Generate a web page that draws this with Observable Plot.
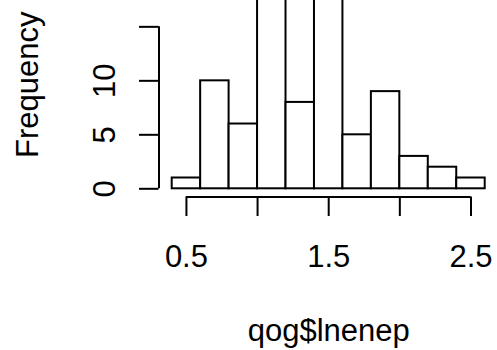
<!DOCTYPE html>
<html><head><meta charset="utf-8">
<script src="https://cdn.jsdelivr.net/npm/d3@7"></script>
<script src="https://cdn.jsdelivr.net/npm/@observablehq/plot@0.6"></script>
<style>body{margin:0;background:#fff;}</style>
</head><body><div id="chart"></div>
<script>
const binEdges = [0.4, 0.6, 0.8, 1.0, 1.2, 1.4, 1.6, 1.8, 2.0, 2.2, 2.4, 2.6];
const counts = [1, 10, 6, 20, 8, 20, 5, 9, 3, 2, 1];
const xTicks = [0.5, 1, 1.5, 2, 2.5];
const xTickLabels = [0.5, 1.5, 2.5];
const yTicks = [0, 5, 10, 15];
const yTickLabels = [0, 5, 10];
const xTitle = "qog$lnenep";
const yTitle = "Frequency";

const bins = counts.map((c, i) => ({x1: binEdges[i], x2: binEdges[i + 1], count: c}));
const font = "'Liberation Sans', Arial, Helvetica, sans-serif";
const fs = 31;
const sw = 2;

const chart = Plot.plot({
  width: 497, height: 350,
  marginLeft: 171.7, marginRight: 12.3, marginTop: 0, marginBottom: 161.7,
  style: {fontFamily: font, overflow: "hidden", background: "white", color: "black"},
  x: {domain: [binEdges[0], binEdges[binEdges.length - 1]]},
  y: {domain: [0, 17.44]},
  marks: [
    Plot.rectY(bins, {x1: "x1", x2: "x2", y: "count", fill: "white", stroke: "black", strokeWidth: sw}),
    Plot.ruleY([0], {x1: xTicks[0], x2: xTicks[xTicks.length - 1], dy: 8.2, stroke: "black", strokeWidth: sw}),
    Plot.axisX({ticks: xTicks, tickSize: 19.5, dy: 8.2, tickFormat: () => "", label: null, strokeWidth: sw, stroke: "black"}),
    Plot.ruleX([binEdges[0]], {y1: yTicks[0], y2: yTicks[yTicks.length - 1], dx: -13.2, stroke: "black", strokeWidth: sw}),
    Plot.axisY({ticks: yTicks, tickSize: 19.5, dx: -13.2, tickFormat: () => "", label: null, strokeWidth: sw, stroke: "black"}),
    Plot.text(xTickLabels, {x: d => d, text: d => d.toFixed(1), frameAnchor: "bottom", dy: 56.5, lineAnchor: "top", fontSize: fs, fill: "black"}),
    Plot.text(yTickLabels, {y: d => d, text: d => String(d), frameAnchor: "left", dx: -57.5, rotate: -90, lineAnchor: "bottom", textAnchor: "middle", fontSize: fs, fill: "black"}),
    Plot.text([yTitle], {frameAnchor: "top-left", dx: -134.5, dy: 84.2, rotate: -90, lineAnchor: "bottom", textAnchor: "middle", fontSize: fs, fill: "black"}),
    Plot.text([xTitle], {x: () => d3.mean(xTicks), frameAnchor: "bottom", dy: 152, lineAnchor: "bottom", textAnchor: "middle", fontSize: fs, fill: "black"})
  ]
});
document.getElementById("chart").appendChild(chart);
</script>
</body></html>
